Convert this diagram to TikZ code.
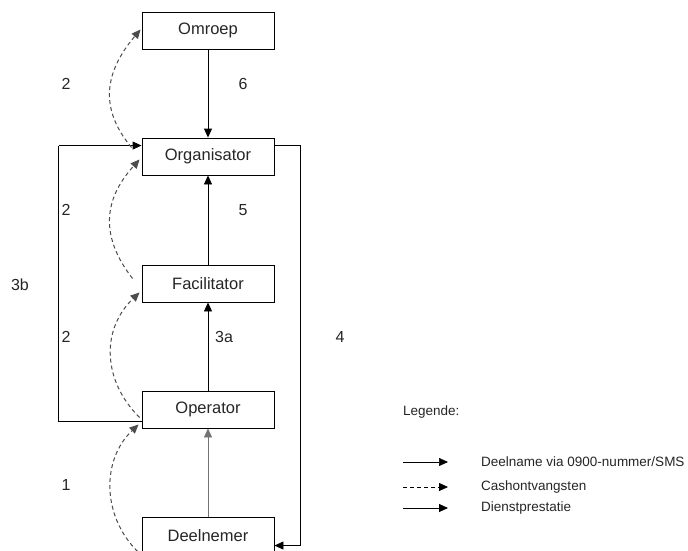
\documentclass[tikz,border=0pt]{standalone}
\usepackage{fontspec}
\setmainfont{Liberation Sans}
\usetikzlibrary{arrows.meta,calc}
\begin{document}
\begin{tikzpicture}[x=1pt,y=-1pt,
  box/.style={draw,line width=0.9pt,minimum width=132pt,minimum height=37pt,inner sep=0pt,text=black!85,font=\fontsize{16.5}{19}\selectfont},
  lbl/.style={font=\fontsize{16}{19}\selectfont,inner sep=0pt,text=black!85},
  leg/.style={font=\fontsize{13.5}{16}\selectfont,inner sep=0pt,anchor=west,text=black!85},
  tip/.style={-{Triangle[length=9pt,width=8pt]}},
  solid1/.style={tip,line width=0.9pt},
  thin1/.style={tip,line width=0.6pt,draw=black!55},
  cash/.style={tip,line width=1pt,draw=black!70,dash pattern=on 4pt off 3pt}]
\useasboundingbox (0,0) rectangle (688,551);
\fill[white] (0,0) rectangle (688,551);
\node[box] (om) at (208,30.5) {Omroep};
\node[box] (org) at (208,156.5) {Organisator};
\node[box] (fac) at (208,283.5) {Facilitator};
\node[box] (op) at (208,409.5) {Operator};
\node[box] (dn) at (208,535.5) {Deelnemer};
% vertical arrows
\draw[solid1] (om.south) -- (org.north);
\draw[solid1] (fac.north) -- (org.south);
\draw[solid1] (op.north) -- (fac.south);
\draw[thin1] (dn.north) -- (op.south);
% left loop 3b
\coordinate (l1) at ($(op.north west)+(-83,31)$);
\coordinate (l2) at ($(org.north west)+(-83,8)$);
\draw[line width=0.9pt] ($(op.north west)+(0,31)$) -- (l1) -- (l2);
\draw[solid1] (l2) -- ($(org.north west)+(0,8)$);
% right loop 4
\coordinate (r1) at ($(org.north east)+(26,8)$);
\coordinate (r2) at ($(dn.north east)+(26,29)$);
\draw[line width=0.9pt] ($(org.north east)+(0,8)$) -- (r1) -- (r2);
\draw[solid1] (r2) -- ($(dn.north east)+(0,29)$);
% dashed curves
\draw[cash] ($(org.west)+(-10,-9)$) .. controls ($(org.west)+(-40,-45)$) and ($(om.west)+(-40,45)$) .. ($(om.west)+(-1,-1)$);
\draw[cash] ($(fac.west)+(-9,-5)$) .. controls ($(fac.west)+(-40,-45)$) and ($(org.west)+(-40,45)$) .. ($(org.west)+(-2,3)$);
\draw[cash] ($(op.west)+(-2,8)$) .. controls ($(op.west)+(-40,-30)$) and ($(fac.west)+(-40,45)$) .. ($(fac.west)+(-2,9)$);
\draw[cash] ($(dn.south west)+(-4,-3)$) .. controls ($(dn.west)+(-40,-20)$) and ($(op.west)+(-40,50)$) .. ($(op.west)+(-3,15)$);
% labels
\node[lbl] (n2a) at (66,84) {2};
\node[lbl] (n6) at (243,84) {6};
\node[lbl] (n2b) at (66,210) {2};
\node[lbl] (n5) at (243,210) {5};
\node[lbl] (n3b) at (20,285) {3b};
\node[lbl] (n2c) at (66,337) {2};
\node[lbl] (n3a) at (224,337) {3a};
\node[lbl] (n4) at (340,337) {4};
\node[lbl] (n1) at (66,485) {1};
% legend
\node[leg] (lg) at (403,412) {Legende:};
\coordinate (a1) at (403,462); \coordinate (b1) at (448,462);
\coordinate (a2) at (403,487); \coordinate (b2) at (448,487);
\coordinate (a3) at (403,508); \coordinate (b3) at (448,508);
\draw[tip,line width=0.6pt] (a1) -- (b1);
\draw[tip,line width=0.8pt,dash pattern=on 4pt off 3pt] (a2) -- (b2);
\draw[solid1] (a3) -- (b3);
\node[leg] (t1) at (481,462) {Deelname via 0900-nummer/SMS};
\node[leg] (t2) at (481,487) {Cashontvangsten};
\node[leg] (t3) at (481,508) {Dienstprestatie};
\end{tikzpicture}
\end{document}
